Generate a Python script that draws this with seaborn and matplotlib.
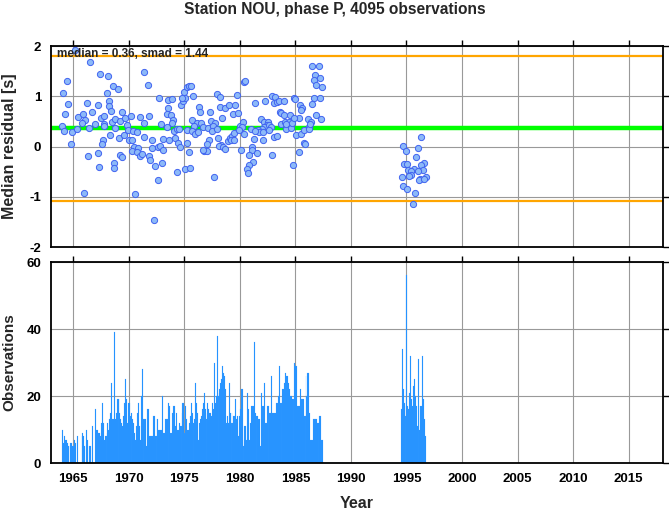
import numpy as np
import pandas as pd
import matplotlib
matplotlib.use("Agg")
import matplotlib.pyplot as plt
import seaborn as sns

# monthly median residuals (decimal year, seconds)
res_year = [
    1965.15, 1966.5, 1964.4, 1967.4, 1968.1, 1968.6, 1969.0, 1964.1, 1968.0, 1964.5,
    1966.2, 1967.2, 1968.2, 1968.2, 1968.4, 1964.3, 1965.4, 1965.9, 1966.1, 1966.7,
    1965.8, 1967.0, 1967.5, 1967.8, 1967.8, 1968.5, 1968.8, 1969.4, 1969.2, 1969.7,
    1970.2, 1971.0, 1971.4, 1964.0, 1964.2, 1964.9, 1965.3, 1966.4, 1967.8, 1968.3,
    1968.8, 1969.1, 1969.6, 1969.8, 1969.9, 1970.4, 1970.7, 1970.0, 1970.3, 1967.7,
    1967.6, 1964.8, 1970.5, 1970.8, 1970.3, 1970.7, 1971.0, 1971.2, 1966.3, 1967.2,
    1969.2, 1969.4, 1968.7, 1968.7, 1967.3, 1966.0, 1970.6, 1971.4,
    1971.73, 1972.7, 1973.5, 1973.9, 1973.5, 1974.7, 1974.9, 1975.0, 1975.2, 1975.4,
    1975.6, 1975.1, 1975.8, 1974.8, 1971.8, 1973.4, 1973.8, 1974.0, 1973.9, 1972.9,
    1973.4, 1974.1, 1974.3, 1974.5, 1975.2, 1975.7, 1976.3, 1976.4, 1976.1, 1976.5,
    1975.9, 1975.7, 1976.0, 1976.2, 1976.7, 1977.1, 1977.3, 1977.4, 1977.8, 1977.6,
    1977.9, 1978.2, 1978.2, 1978.7, 1979.0, 1979.6, 1979.7, 1978.4, 1979.4, 1979.8,
    1977.5, 1977.9, 1978.0, 1977.2, 1977.0, 1976.8, 1977.0, 1976.7, 1978.3, 1978.1,
    1978.5, 1978.7, 1978.9, 1979.1, 1979.3, 1979.2, 1979.5, 1979.5, 1971.4, 1972.1,
    1972.1, 1972.6, 1972.8, 1973.1, 1973.1, 1973.6, 1974.2, 1974.4, 1974.6, 1975.2,
    1975.4, 1971.8, 1971.9, 1972.4, 1973.0, 1974.3, 1975.1, 1975.5, 1972.6, 1977.7,
    1972.3,
    1980.0, 1980.3, 1980.2, 1979.9, 1980.4, 1980.4, 1980.5, 1981.4, 1982.3, 1982.9,
    1983.2, 1983.1, 1983.3, 1983.5, 1984.0, 1983.6, 1983.7, 1984.0, 1984.5, 1984.9,
    1985.0, 1985.4, 1985.6, 1985.5, 1985.3, 1981.9, 1982.2, 1982.5, 1982.4, 1982.2,
    1982.6, 1982.8, 1982.0, 1982.6, 1981.6, 1981.7, 1982.1, 1981.0, 1981.4, 1981.3,
    1982.1, 1983.1, 1983.3, 1983.7, 1984.1, 1984.4, 1984.2, 1984.2, 1984.6, 1984.7,
    1984.9, 1985.1, 1985.5, 1985.8, 1986.1, 1986.4, 1986.2, 1986.2, 1986.3, 1986.9,
    1987.3, 1986.7, 1987.2, 1986.5, 1986.5, 1987.1, 1986.8, 1986.7, 1987.2, 1986.9,
    1987.4, 1985.8, 1985.9, 1985.3, 1984.8, 1982.9, 1980.1, 1981.1, 1981.1, 1981.5,
    1980.8, 1981.2, 1980.8, 1980.6, 1980.7,
    1996.27, 1994.73, 1994.94, 1996.03, 1995.85, 1994.82, 1995.09, 1996.55, 1996.33, 1996.45,
    1995.67, 1996.0, 1995.18, 1995.45, 1995.39, 1995.27, 1994.61, 1996.21, 1996.12, 1996.73,
    1996.55, 1994.67, 1995.03, 1995.79, 1995.61,
]
res_median = [
    1.93, 1.68, 1.31, 1.45, 1.40, 1.20, 1.15, 1.06, 1.06, 0.85,
    0.86, 0.83, 0.91, 0.80, 0.71, 0.65, 0.58, 0.65, 0.53, 0.68,
    0.46, 0.44, 0.56, 0.60, 0.45, 0.48, 0.55, 0.68, 0.50, 0.57,
    0.61, 0.58, 0.46, 0.41, 0.31, 0.29, 0.35, 0.36, 0.41, 0.22,
    0.36, 0.16, 0.23, 0.42, 0.32, 0.30, 0.29, 0.12, 0.12, 0.12,
    0.05, 0.06, -0.01, -0.03, -0.09, -0.11, -0.19, -0.14, -0.19, -0.12,
    -0.16, -0.20, -0.32, -0.43, -0.40, -0.93, -0.95, 1.48,
    1.23, 0.97, 0.93, 0.95, 0.77, 0.82, 0.90, 1.08, 1.18, 1.20,
    1.20, 0.97, 1.01, 0.97, 0.60, 0.64, 0.62, 0.52, 0.46, 0.44,
    0.38, 0.31, 0.34, 0.35, 0.33, 0.52, 0.78, 0.69, 0.47, 0.47,
    0.41, 0.30, 0.25, 0.29, 0.38, 0.37, 0.68, 0.51, 0.47, 0.40,
    1.04, 0.99, 0.79, 0.77, 0.83, 0.83, 1.03, 0.57, 0.65, 0.66,
    0.30, 0.34, 0.17, 0.12, 0.05, -0.09, -0.09, -0.06, 0.04, 0.01,
    -0.01, -0.05, 0.11, 0.17, 0.21, 0.12, 0.26, 0.12, 0.19, 0.12,
    -0.03, 0.00, 0.02, 0.14, -0.07, 0.13, 0.16, 0.08, -0.01, 0.08,
    -0.11, -0.19, -0.27, -0.39, -0.33, -0.51, -0.44, -0.43, -0.66, -0.61,
    -1.47,
    0.41, 0.48, 0.38, 0.33, 0.25, 1.29, 1.30, 0.86, 0.91, 1.01,
    0.98, 0.87, 0.88, 0.91, 0.91, 0.69, 0.67, 0.63, 0.63, 0.96,
    0.94, 0.82, 0.77, 0.72, 0.56, 0.55, 0.49, 0.49, 0.43, 0.39,
    0.42, 0.39, 0.35, 0.32, 0.32, 0.29, 0.29, 0.35, 0.30, 0.14,
    0.12, 0.19, 0.21, 0.44, 0.49, 0.48, 0.35, 0.44, 0.36, 0.47,
    0.56, 0.22, 0.25, 0.32, 0.55, 0.49, 0.39, 0.34, 0.44, 0.62,
    0.55, 0.96, 0.97, 0.84, 1.61, 1.61, 1.42, 1.32, 1.36, 1.22,
    1.18, 0.08, 0.06, -0.10, -0.36, -0.16, -0.06, 0.00, -0.06, -0.12,
    -0.17, -0.31, -0.37, -0.44, -0.53,
    0.18, 0.01, -0.08, -0.03, -0.20, -0.35, -0.34, -0.33, -0.37, -0.46,
    -0.45, -0.49, -0.47, -0.49, -0.57, -0.59, -0.61, -0.64, -0.67, -0.61,
    -0.64, -0.78, -0.84, -0.93, -1.14,
]

median_val = 0.36
smad_val = 1.44

# monthly observation counts, first block starts Jan 1964
obs_start_a = 1964.0
obs_counts_a = [
    10, 6, 8, 7, 7, 6, 5, 5, 0, 6, 6, 5,
    5, 7, 6, 0, 8, 0, 0, 0, 0, 8, 9, 8,
    5, 0, 10, 7, 0, 5, 5, 0, 11, 0, 0, 0,
    16, 10, 10, 9, 9, 8, 12, 18, 12, 7, 8, 8,
    9, 12, 10, 13, 15, 24, 13, 13, 39, 13, 15, 19,
    19, 19, 15, 13, 12, 11, 14, 18, 25, 19, 12, 18,
    18, 14, 15, 11, 13, 12, 9, 7, 11, 15, 18, 11,
    7, 20, 28, 13, 10, 13, 13, 5, 16, 16, 8, 8,
    8, 8, 14, 14, 8, 8, 13, 13, 10, 10, 10, 10,
    20, 9, 9, 13, 13, 13, 18, 17, 17, 9, 9, 15,
    17, 17, 11, 15, 10, 10, 12, 11, 11, 15, 18, 18,
    9, 17, 13, 10, 10, 12, 14, 18, 15, 12, 10, 13,
    24, 18, 15, 7, 12, 13, 14, 16, 18, 21, 16, 13,
    15, 18, 16, 15, 15, 14, 18, 16, 30, 18, 20, 38,
    20, 21, 22, 24, 25, 29, 27, 26, 22, 12, 14, 12,
    24, 15, 12, 15, 12, 14, 14, 19, 13, 14, 8, 14,
    16, 22, 22, 5, 7, 11, 11, 7, 21, 16, 7, 12,
    17, 17, 17, 36, 15, 14, 14, 14, 13, 13, 5, 21,
    17, 17, 24, 12, 12, 17, 17, 13, 15, 15, 26, 15,
    15, 15, 15, 18, 18, 20, 29, 18, 18, 20, 22, 22,
    24, 27, 26, 26, 24, 22, 20, 20, 19, 19, 19, 30,
    29, 29, 17, 17, 17, 22, 19, 19, 19, 14, 14, 26,
    20, 27, 27, 15, 7, 7, 7, 13, 13, 13, 13, 12,
    12, 11, 14, 14, 7, 7,
]
# second block starts Jul 1994
obs_start_b = 1994.5
obs_counts_b = [16, 34, 22, 18, 14, 17, 56, 17, 16, 21, 32, 19, 17, 23,
                25, 20, 17, 11, 31, 17, 10, 17, 17, 32, 19, 13, 8]

year_ticks = list(range(1965, 2016, 5))
n_obs = 4095

sns.set_style("white")
plt.rcParams["font.family"] = ["Liberation Sans", "DejaVu Sans"]
plt.rcParams["font.weight"] = "bold"
plt.rcParams["axes.labelweight"] = "bold"
plt.rcParams["axes.unicode_minus"] = False

obs_x = [obs_start_a + (i + 0.5) / 12 for i in range(len(obs_counts_a))]
obs_x += [obs_start_b + (i + 0.5) / 12 for i in range(len(obs_counts_b))]
obs_df = pd.DataFrame({"year": obs_x, "n": obs_counts_a + obs_counts_b})

fig = plt.figure(figsize=(6.69, 5.11), dpi=100)
ax1 = fig.add_axes([0.0762, 0.5166, 0.915, 0.3933])
ax2 = fig.add_axes([0.0762, 0.0939, 0.915, 0.3933])

# top panel: residuals
ax1.axhline(median_val, color="#00ff00", lw=3.2, zorder=2)
ax1.axhline(median_val + smad_val, color="#ffa500", lw=1.6, zorder=2)
ax1.axhline(median_val - smad_val, color="#ffa500", lw=1.6, zorder=2)
sns.scatterplot(x=res_year, y=res_median, ax=ax1, s=20, color="#8cb9f8",
                edgecolor="#4063f0", linewidth=0.7, zorder=3)
ax1.text(1963.5, 1.84, f"median = {median_val:.2f}, smad = {smad_val:.2f}",
         fontsize=8.5, fontweight="bold", va="center", ha="left", zorder=4)
ax1.set_xlim(1963.0, 2018.1)
ax1.set_ylim(-2, 2)
ax1.set_yticks([-2, -1, 0, 1, 2])
ax1.set_xticks(year_ticks)
ax1.set_xticklabels([])
ax1.set_xlabel("")
ax1.set_ylabel("Median residual [s]", fontsize=11.5)
ax1.yaxis.set_label_coords(-0.056, 0.5)

# bottom panel: observation counts per month
sns.histplot(data=obs_df, x="year", weights="n", binwidth=1 / 12,
             binrange=(1964.0, 1997.0), ax=ax2,
             color="#1e90ff", alpha=1, edgecolor="#4aa3ff", linewidth=0.12)
ax2.set_xlim(1963.0, 2018.1)
ax2.set_ylim(0, 60)
ax2.set_yticks([0, 20, 40, 60])
ax2.set_xticks(year_ticks)
ax2.set_xlabel("Year", fontsize=11.5, labelpad=8)
ax2.set_ylabel("Observations", fontsize=11)
ax2.yaxis.set_label_coords(-0.056, 0.5)

for ax in (ax1, ax2):
    ax.set_axisbelow(True)
    ax.grid(True, color="#999999", linewidth=0.8)
    ax.tick_params(direction="out", length=4, width=1, top=True, right=True,
                   labelsize=9.5, colors="black", pad=3)
    for s in ax.spines.values():
        s.set_color("black")
        s.set_linewidth(1.3)
    for lab in ax.get_xticklabels() + ax.get_yticklabels():
        lab.set_fontweight("bold")

fig.suptitle(f"Station NOU, phase P, {n_obs} observations", fontsize=11.2,
             fontweight="bold", x=0.5, y=0.997)

fig.savefig("out.png", dpi=100)
